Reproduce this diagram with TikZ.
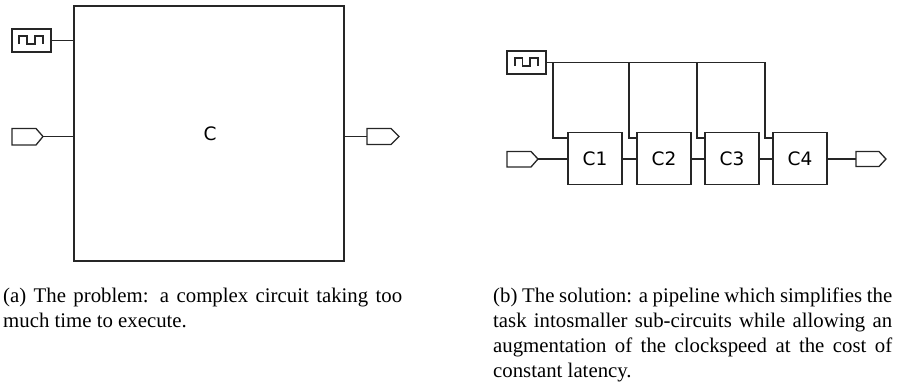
\documentclass[tikz,border=0pt]{standalone}
\usepackage{fontspec}
\setmainfont{Liberation Serif}
\newfontfamily\labelfont{DejaVu Sans}
\tikzset{
  wire/.style={draw=black!85,line width=1.3pt,line join=miter},
  thinwire/.style={draw=black!85,line width=1.1pt,line join=miter},
  clockbox/.style={draw=black!85,line width=1.3pt,minimum width=39pt,minimum height=23pt,inner sep=0pt},
  blockbox/.style={draw=black!85,line width=1.3pt,inner sep=0pt,font=\labelfont\fontsize{18.5}{20}\selectfont},
  smallblock/.style={blockbox,minimum width=54pt,minimum height=51.5pt},
  caption/.style={anchor=north west,inner sep=0pt,align=left,font=\fontsize{20.8}{25}\selectfont}
}
\newcommand{\fullline}[1]{\hbox to 399pt{#1}}
\begin{document}
\begin{tikzpicture}[x=1pt,y=-1pt]
\useasboundingbox (0,0) rectangle (897,381);
% left
\node[blockbox,minimum width=270pt,minimum height=255pt] (C) at (209,133.5) {\hspace{2pt}\raisebox{-1.5pt}{C}};
\node[clockbox] (clkA) at (31.5,40.5) {};
\draw[thinwire] (19,44) -- (19,36) -- (27,36) -- (27,44) -- (35,44) -- (35,36) -- (43,36) -- (43,44);
\coordinate (inA) at (43,136.5);
\draw[wire] (inA) -- (36,128.5) -- (12,128.5) -- (12,145) -- (36,145) -- cycle;
\coordinate (outA) at (367,136.5);
\draw[wire] (outA) -- (367,128.5) -- (391,128.5) -- (399,136.5) -- (391,144.5) -- (367,144.5) -- cycle;
\draw[wire] (clkA.east) -- (clkA.east -| C.west);
\draw[wire] (inA) -- (inA -| C.west);
\draw[wire] (inA -| C.east) -- (outA);
% right
\node[clockbox] (clkB) at (526.5,62.5) {};
\draw[thinwire] (515,66) -- (515,58) -- (522.5,58) -- (522.5,66) -- (530,66) -- (530,58) -- (538,58) -- (538,66);
\node[smallblock] (c1) at (595,158.5) {C1};
\node[smallblock] (c2) at (664,158.5) {C2};
\node[smallblock] (c3) at (732,158.5) {C3};
\node[smallblock] (c4) at (800,158.5) {C4};
\coordinate (inB) at (538,159);
\draw[wire] (inB) -- (531,151.5) -- (507,151.5) -- (507,167) -- (531,167) -- cycle;
\coordinate (outB) at (856,159);
\draw[wire] (outB) -- (856,151.5) -- (879,151.5) -- (886,159) -- (879,166.5) -- (856,166.5) -- cycle;
\draw[wire] (inB) -- (inB -| c1.west);
\draw[wire] (inB -| c1.east) -- (inB -| c2.west);
\draw[wire] (inB -| c2.east) -- (inB -| c3.west);
\draw[wire] (inB -| c3.east) -- (inB -| c4.west);
\draw[wire] (inB -| c4.east) -- (outB);
\coordinate (bus) at (765,62.5);
\coordinate (t1) at (553,138);
\coordinate (t2) at (629,138);
\coordinate (t3) at (697,138);
\coordinate (t4) at (765,138);
\draw[wire] (clkB.east) -- (bus) -- (t4) -- (t4 -| c4.west);
\draw[wire] (t1 |- bus) -- (t1) -- (t1 -| c1.west);
\draw[wire] (t2 |- bus) -- (t2) -- (t2 -| c2.west);
\draw[wire] (t3 |- bus) -- (t3) -- (t3 -| c3.west);
% captions
\node[caption] (capA) at (3,288) {\fullline{(a) The problem: a complex circuit taking too}\\much time to execute.};
\node[caption] (capB) at (493,288) {\fullline{(b) The solution: a pipeline which simplifies the}\\\fullline{task intosmaller sub-circuits while allowing an}\\\fullline{augmentation of the clockspeed at the cost of}\\constant latency.};
\end{tikzpicture}
\end{document}
